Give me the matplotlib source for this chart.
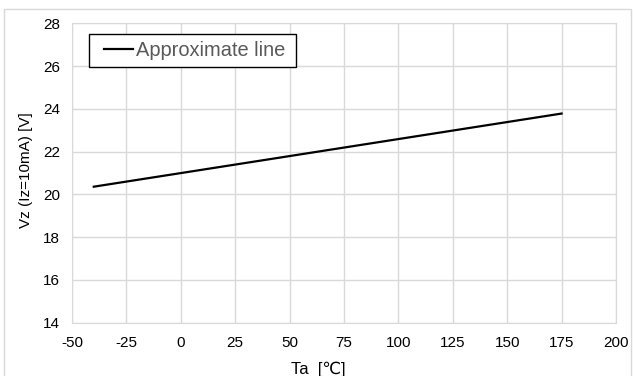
import numpy as np
import matplotlib.pyplot as plt
from matplotlib.patches import Rectangle

# Data
ta = [-40, 175]
vz = [20.36, 23.78]
xTicks = [-50, -25, 0, 25, 50, 75, 100, 125, 150, 175, 200]
yTicks = [14, 16, 18, 20, 22, 24, 26, 28]

plt.rcParams['font.family'] = ['Liberation Sans', 'DejaVu Sans']
plt.rcParams['axes.unicode_minus'] = False

fig = plt.figure(figsize=(6.33, 3.76), dpi=100)
ax = fig.add_axes([72/633, 1 - 322.7/376, (616 - 72)/633, (322.7 - 23.3)/376])

# Outer chart border
fig.patches.append(Rectangle((4/633, -0.01), (631 - 4)/633, 1.01 - 9/376,
                             transform=fig.transFigure, fill=False,
                             edgecolor='#d9d9d9', linewidth=1))

ax.plot(ta, vz, color='black', linewidth=1.6, label='Approximate line')

# Formatting
ax.set_xlim(-50, 200)
ax.set_ylim(14, 28)
ax.set_xticks(xTicks)
ax.set_yticks(yTicks)
ax.grid(True, color='#d9d9d9', linewidth=1)
ax.set_axisbelow(True)
for spine in ax.spines.values():
    spine.set_color('#d9d9d9')
ax.tick_params(length=0, labelsize=11, labelcolor='black')
ax.tick_params(axis='x', pad=9.5)
ax.tick_params(axis='y', pad=8.5)

ax.set_xlabel('Ta  [℃]', fontsize=12)
ax.xaxis.set_label_coords(0.452, -0.13)
ax.set_ylabel('Vz (Iz=10mA) [V]', fontsize=11)
ax.yaxis.set_label_coords(-0.071, 0.51)

# Legend without its own frame, box drawn separately
leg = ax.legend(loc='upper left', bbox_to_anchor=(0.0588, 0.941), fontsize=14.4,
                handlelength=1.45, handletextpad=0.15, borderpad=0,
                frameon=False, borderaxespad=0)
for t in leg.get_texts():
    t.set_color('#595959')
ax.add_patch(Rectangle((0.03125, 0.854), 0.4118 - 0.03125, 0.9643 - 0.854,
                       transform=ax.transAxes, fill=True, facecolor='white',
                       edgecolor='black', linewidth=1, zorder=4))
leg.set_zorder(5)

fig.savefig('out.png', dpi=100)
